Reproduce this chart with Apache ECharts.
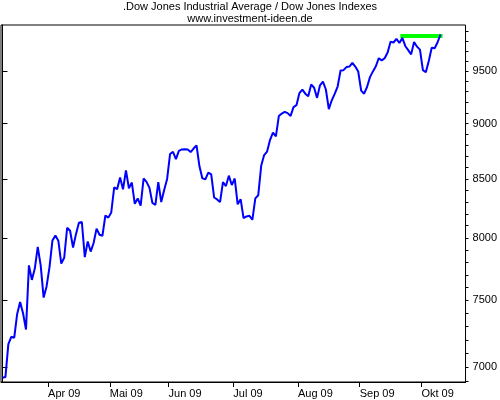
<!DOCTYPE html>
<html>
<head>
<meta charset="utf-8">
<title>Dow Jones Industrial Average</title>
<script src="https://cdn.jsdelivr.net/npm/echarts@6/dist/echarts.min.js"></script>
<style>
  html, body { margin: 0; padding: 0; background: #fff; }
  #main { width: 500px; height: 400px; }
</style>
</head>
<body>
<div id="main"></div>
<script>
// trading days, Mar 10 - Oct 9 2009 (MM-DD)
const days = [
  '03-10','03-11','03-12','03-13','03-16','03-17','03-18','03-19','03-20','03-23','03-24','03-25','03-26','03-27','03-30','03-31',
  '04-01','04-02','04-03','04-06','04-07','04-08','04-09','04-13','04-14','04-15','04-16','04-17','04-20','04-21','04-22','04-23','04-24','04-27','04-28','04-29','04-30',
  '05-01','05-04','05-05','05-06','05-07','05-08','05-11','05-12','05-13','05-14','05-15','05-18','05-19','05-20','05-21','05-22','05-26','05-27','05-28','05-29',
  '06-01','06-02','06-03','06-04','06-05','06-08','06-09','06-10','06-11','06-12','06-15','06-16','06-17','06-18','06-19','06-22','06-23','06-24','06-25','06-26','06-29','06-30',
  '07-01','07-02','07-06','07-07','07-08','07-09','07-10','07-13','07-14','07-15','07-16','07-17','07-20','07-21','07-22','07-23','07-24','07-27','07-28','07-29','07-30','07-31',
  '08-03','08-04','08-05','08-06','08-07','08-10','08-11','08-12','08-13','08-14','08-17','08-18','08-19','08-20','08-21','08-24','08-25','08-26','08-27','08-28','08-31',
  '09-01','09-02','09-03','09-04','09-08','09-09','09-10','09-11','09-14','09-15','09-16','09-17','09-18','09-21','09-22','09-23','09-24','09-25','09-28','09-29','09-30',
  '10-01','10-02','10-05','10-06','10-07','10-08','10-09'
];

const closes = [
  6926, 6930, 7170, 7224, 7217, 7396, 7487, 7401, 7278, 7776, 7660, 7750, 7925, 7776, 7522, 7609,
  7762, 7978, 8018, 7976, 7790, 7837, 8083, 8058, 7920, 8030, 8125, 8131, 7842, 7970, 7887, 7957, 8076, 8025, 8017, 8186, 8168,
  8212, 8427, 8411, 8512, 8410, 8575, 8419, 8469, 8285, 8331, 8269, 8504, 8475, 8422, 8292, 8277, 8473, 8300, 8404, 8500,
  8721, 8741, 8675, 8750, 8763, 8764, 8763, 8739, 8771, 8799, 8612, 8505, 8497, 8556, 8540, 8339, 8323, 8300, 8472, 8438, 8529, 8447,
  8504, 8281, 8325, 8164, 8178, 8183, 8150, 8332, 8359, 8616, 8712, 8744, 8848, 8916, 8881, 9069, 9093, 9109, 9097, 9071, 9154, 9172,
  9287, 9320, 9281, 9256, 9370, 9338, 9241, 9362, 9398, 9321, 9135, 9218, 9279, 9350, 9506, 9509, 9539, 9544, 9581, 9544, 9496,
  9311, 9281, 9345, 9441, 9497, 9547, 9627, 9605, 9627, 9683, 9792, 9784, 9820, 9779, 9830, 9749, 9707, 9665, 9789, 9742, 9712,
  9509, 9488, 9600, 9731, 9726, 9787, 9865
];

const monthLabels = ['Apr 09', 'Mai 09', 'Jun 09', 'Jul 09', 'Aug 09', 'Sep 09', 'Okt 09'];
const yLabels = [7000, 7500, 8000, 8500, 9000, 9500];
const yMinorTicks = [6900, 7000, 7100, 7200, 7300, 7400, 7500, 7600, 7700, 7800, 7900, 8000, 8100, 8200, 8300,
  8400, 8500, 8600, 8700, 8800, 8900, 9000, 9100, 9200, 9300, 9400, 9500, 9600, 9700, 9800, 9900];

// green resistance line
const resistance = 9850;
const resistanceFrom = '09-22';
const resistanceTo = '10-09';

const yMin = 6895, yMax = 9962;   // log axis range
const slots = 158;                // trading-day slots on the x axis

const lg = v => Math.log10(v);

// month start ticks sit between the last day of a month and the first of the next
const monthTicks = [];
for (let i = 1; i < days.length; i++) {
  if (days[i].slice(0, 2) !== days[i - 1].slice(0, 2)) monthTicks.push(i - 0.5);
}
const tickLabel = {};
monthTicks.forEach((t, k) => { tickLabel[t] = monthLabels[k]; });

const font = 'Liberation Sans, Arial, sans-serif';

var myChart = echarts.init(document.getElementById('main'));
myChart.setOption({
  animation: false,
  backgroundColor: '#fff',
  title: {
    text: '.Dow Jones Industrial Average / Dow Jones Indexes\nwww.investment-ideen.de',
    left: 'center',
    top: 1,
    padding: [0, 5],
    textStyle: { fontSize: 11, fontWeight: 'normal', color: '#000', fontFamily: font, lineHeight: 12 }
  },
  grid: {
    left: 1, right: 32, top: 25, bottom: 18,
    show: true, borderColor: '#000', borderWidth: 1
  },
  xAxis: {
    type: 'value',
    min: -0.5,
    max: slots - 0.5,
    splitLine: { show: false },
    axisLine: { lineStyle: { color: '#000', width: 1 } },
    axisTick: { customValues: monthTicks, length: 5, lineStyle: { color: '#000' } },
    axisLabel: {
      customValues: monthTicks,
      align: 'left',
      margin: 6,
      color: '#000',
      fontSize: 11,
      fontFamily: font,
      formatter: v => tickLabel[v] || ''
    }
  },
  yAxis: [{
    type: 'value',
    position: 'right',
    min: lg(yMin),
    max: lg(yMax),
    splitLine: { show: false },
    axisLine: { show: true, lineStyle: { color: '#000', width: 1 } },
    axisTick: { customValues: yLabels.map(lg), length: 5, lineStyle: { color: '#000' } },
    axisLabel: {
      customValues: yLabels.map(lg),
      margin: 7,
      color: '#000',
      fontSize: 11,
      fontFamily: font,
      formatter: v => String(Math.round(Math.pow(10, v)))
    }
  }, {
    type: 'value',
    position: 'right',
    min: lg(yMin),
    max: lg(yMax),
    splitLine: { show: false },
    axisLine: { show: false },
    axisTick: { show: true, customValues: yMinorTicks.map(lg), length: 3, lineStyle: { color: '#000' } },
    axisLabel: { show: false }
  }],
  series: [{
    type: 'line',
    yAxisIndex: 0,
    data: closes.map((v, i) => [i, lg(v)]),
    showSymbol: false,
    lineStyle: { color: '#0000ff', width: 2 },
    z: 2
  }, {
    type: 'line',
    yAxisIndex: 0,
    data: [[days.indexOf(resistanceFrom), lg(resistance)], [days.indexOf(resistanceTo), lg(resistance)]],
    showSymbol: false,
    lineStyle: { color: '#00ff00', width: 4, cap: 'square' },
    z: 1
  }]
});
</script>
</body>
</html>
